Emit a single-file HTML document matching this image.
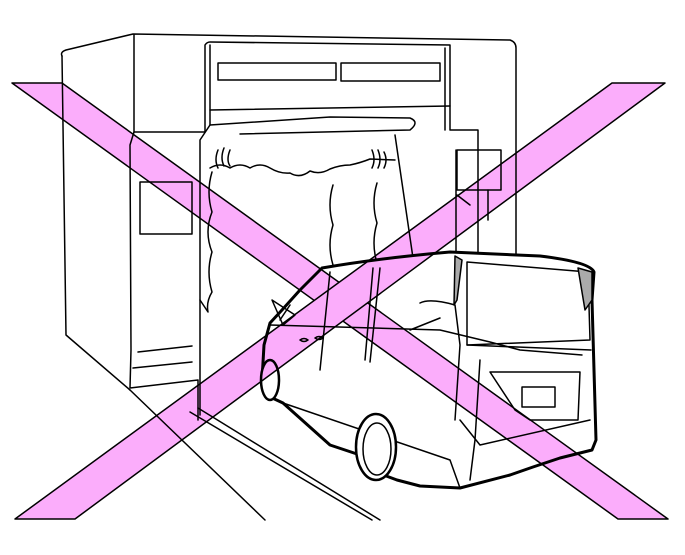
<!DOCTYPE html>
<html><head><style>html,body{margin:0;padding:0;background:#fff;}svg{display:block;}</style></head>
<body>
<svg width="685" height="555" viewBox="0 0 685 555" xmlns="http://www.w3.org/2000/svg" fill="none" stroke="#000" stroke-width="1.5" stroke-linejoin="round" stroke-linecap="round">
<!-- building -->
<path d="M62,56 Q60,52 66,50 L133,34 L510,40 Q516,42 516,48 L516,280"/>
<path d="M62,56 L66,335 L130,390"/>
<path d="M134,35 L134,132 L130,145 L131,350 L130,388 L198,380 L198,420"/>
<path d="M134,132 L205,132 L205,45 Q207,42 210,42 L450,45 L450,130 L478,130 L478,145 L478,290"/>
<path d="M210,45 L210,125 L200,140 L200,415"/>
<rect x="218" y="63" width="118" height="17"/>
<rect x="341" y="63" width="99" height="18"/>
<path d="M210,110 L450,106"/>
<path d="M210,125 L330,117 L410,118 Q420,122 410,130 L240,134"/>
<path d="M445,48 L445,130 M456,150 L456,270"/>
<rect x="140" y="182" width="52" height="52"/>
<path d="M138,352 L192,346 M133,368 L192,362"/>
<rect x="457" y="150" width="44" height="40"/>
<path d="M488,190 L488,220 M457,195 L470,205"/>
<path d="M395,135 L413,258"/>
<path d="M218,150 q-4,10 0,18 M224,148 q-4,10 0,18 M230,150 q-4,10 0,16 M372,150 q4,10 0,18 M378,150 q4,10 0,18 M384,152 q4,8 0,16"/>
<path d="M210,168 q10,-6 20,0 q10,-6 20,0 q10,-6 20,0 q10,6 20,5 q10,6 20,-2 q10,4 20,-2 q10,-4 20,-4 q10,-2 20,-6 L395,160"/>
<path d="M212,172 q-6,20 0,40 q-8,20 0,40 q-6,20 0,40 q-6,10 -4,20 L200,300"/>
<path d="M333,185 q-6,20 0,40 q-6,20 0,40 L330,285 M377,183 q-6,20 0,40 q-6,20 0,40 L377,265"/>
<path d="M130,390 L265,520 M190,412 L372,520 M198,408 L380,520"/>
<!-- van -->
<path d="M322,268 Q380,258 450,252 L540,256 Q590,262 594,272 L592,300 L596,440 L592,450 L560,458 L533,467 L510,475 L460,488 L420,486 L397,480 L370,470 L360,455 L330,445 L283,403 L268,396 L262,380 L264,345 L270,323 L282,310 L300,290 Z" fill="#fff" stroke-width="3"/>
<g stroke-width="1.5">
<path d="M467,262 L588,272 L590,340 L467,345 Z"/>
<path d="M467,345 L591,350"/>
<path d="M330,272 L320,370 M373,268 L365,360 M380,268 L370,362"/>
<path d="M270,325 L440,330 L490,342 L520,350 L582,355"/>
<path d="M420,303 Q430,298 455,305 L460,345 L455,420"/>
<path d="M440,318 L410,330 M480,360 L475,440 L470,480"/>
<path d="M290,305 L280,320 M283,403 L450,460 L460,488"/>
<path d="M490,372 L580,372 L578,420 L530,420 L515,410 Z"/>
<rect x="522" y="387" width="33" height="20"/>
<path d="M460,420 L480,445 L590,420"/>
<path d="M272,300 L295,315 L283,325 Z"/>
<path d="M300,340 q4,-3 8,0 q-4,3 -8,0 M315,338 q4,-3 8,0 q-4,3 -8,0"/>
</g>
<path d="M455,256 L462,260 L457,300 L454,305 Z" fill="#aaa"/>
<path d="M578,268 L592,272 L592,300 L585,310 Z" fill="#aaa"/>
<ellipse cx="376" cy="447" rx="20" ry="33" fill="#fff" stroke-width="2.5"/>
<ellipse cx="377" cy="449" rx="14" ry="26"/>
<ellipse cx="270" cy="380" rx="9" ry="20" fill="#fff" stroke-width="2.5"/>
<!-- pink X -->
<g fill="#fbadfb" stroke="#000" stroke-width="1.5" style="mix-blend-mode:multiply">
<polygon points="12,83 62,83 668,519 618,519"/>
<polygon points="612,83 665,83 75,519 15,519"/>
</g>
</svg>
</body></html>
